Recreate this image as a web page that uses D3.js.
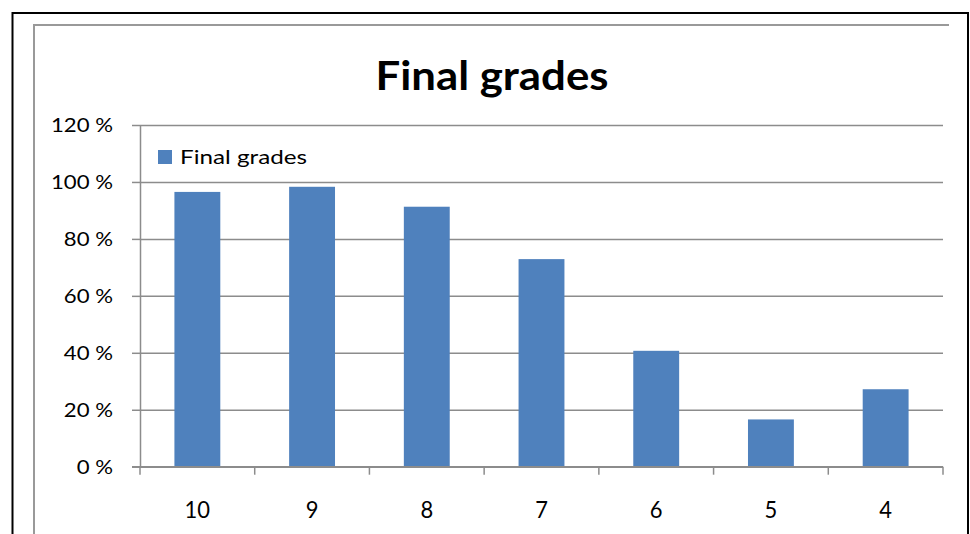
<!DOCTYPE html>
<html>
<head>
<meta charset="utf-8">
<script src="https://cdn.jsdelivr.net/npm/d3@7"></script>
<style>
  html, body { margin: 0; padding: 0; background: #fff; }
  svg { display: block; }
  text { font-family: Lato, "Open Sans", sans-serif; fill: #000; }
</style>
</head>
<body>
<svg id="chart" width="970" height="534"></svg>
<script>
const categories = ["10", "9", "8", "7", "6", "5", "4"];
const values = [96.5, 98.3, 91.3, 72.9, 40.7, 16.6, 27.2];
const yTicks = [0, 20, 40, 60, 80, 100, 120];
const seriesName = "Final grades";
const titleText = "Final grades";

const svg = d3.select("#chart");
const plot = { left: 140, right: 943, top: 125, bottom: 466.7 };

// outer black frame
svg.append("rect").attr("x", 12.5).attr("y", 13).attr("width", 955.5).attr("height", 540)
  .attr("fill", "none").attr("stroke", "#000").attr("stroke-width", 2);
// inner gray frame (top and left edges)
svg.append("path").attr("d", `M34,560 L34,25 L949,25`)
  .attr("fill", "none").attr("stroke", "#999").attr("stroke-width", 2);

const x = d3.scaleBand().domain(categories).range([plot.left, plot.right])
  .paddingInner(0.6).paddingOuter(0.3);
const y = d3.scaleLinear().domain([0, 120]).range([plot.bottom, plot.top]);

// gridlines
const grid = svg.append("g").attr("transform", `translate(${plot.left},0)`)
  .call(d3.axisLeft(y).tickValues(yTicks).tickSize(-(plot.right - plot.left)).tickFormat(""));
grid.select(".domain").remove();
grid.selectAll("line").attr("stroke", "#8c8c8c").attr("stroke-width", 1.5);

// bars
svg.append("g").selectAll("rect").data(categories).join("rect")
  .attr("x", d => x(d))
  .attr("width", x.bandwidth())
  .attr("y", (d, i) => y(values[i]))
  .attr("height", (d, i) => y(0) - y(values[i]))
  .attr("fill", "#4F81BD");

// horizontal stretch helper to mimic the narrower original face
function stretch(sel, factor) {
  sel.each(function () {
    const w = this.getComputedTextLength();
    d3.select(this).attr("textLength", w * factor).attr("lengthAdjust", "spacingAndGlyphs");
  });
}

// y axis
const yAxis = svg.append("g").attr("transform", `translate(${plot.left},0)`)
  .call(d3.axisLeft(y).tickValues(yTicks).tickSizeInner(8).tickSizeOuter(0).tickPadding(19)
    .tickFormat(d => d + " %"));
yAxis.select(".domain").attr("stroke", "#8c8c8c").attr("stroke-width", 1.5);
yAxis.selectAll("line").attr("stroke", "#8c8c8c").attr("stroke-width", 1.5);
const yTexts = yAxis.selectAll("text").style("font-size", "20px").attr("fill", "#000");
{
  const ref = yTexts.filter(d => d === 120).node();
  const f = ref ? 62 / ref.getComputedTextLength() : 1;
  stretch(yTexts, f);
}

// x axis
const xAxis = svg.append("g").attr("transform", `translate(0,${plot.bottom})`)
  .call(d3.axisBottom(x).tickSize(0).tickPadding(35));
xAxis.select(".domain").attr("stroke", "#8c8c8c").attr("stroke-width", 1.5)
  .attr("d", `M${plot.left - 8},0H${plot.right}`);
const xTexts = xAxis.selectAll("text").style("font-size", "23px").attr("fill", "#000");
{
  const ref = xTexts.filter(d => d === "10").node();
  const f = ref ? 25.5 / ref.getComputedTextLength() : 1;
  stretch(xTexts, f);
}
// category boundary ticks
const boundaries = d3.range(categories.length + 1).map(i => plot.left + i * x.step());
xAxis.selectAll(".bound").data(boundaries).join("line")
  .attr("class", "bound")
  .attr("x1", d => d).attr("x2", d => d).attr("y1", 0).attr("y2", 8)
  .attr("stroke", "#8c8c8c").attr("stroke-width", 1.5);

// title
const title = svg.append("text").attr("x", 492).attr("y", 90)
  .attr("text-anchor", "middle").style("font-size", "40px").style("font-weight", "bold")
  .text(titleText);
title.attr("textLength", 233).attr("lengthAdjust", "spacingAndGlyphs");

// legend
const lg = svg.append("g");
lg.append("rect").attr("x", 158).attr("y", 150).attr("width", 14).attr("height", 14).attr("fill", "#4F81BD");
const lt = lg.append("text").attr("x", 180).attr("y", 164).style("font-size", "20px").text(seriesName);
lt.attr("textLength", 127).attr("lengthAdjust", "spacingAndGlyphs");
</script>
</body>
</html>
